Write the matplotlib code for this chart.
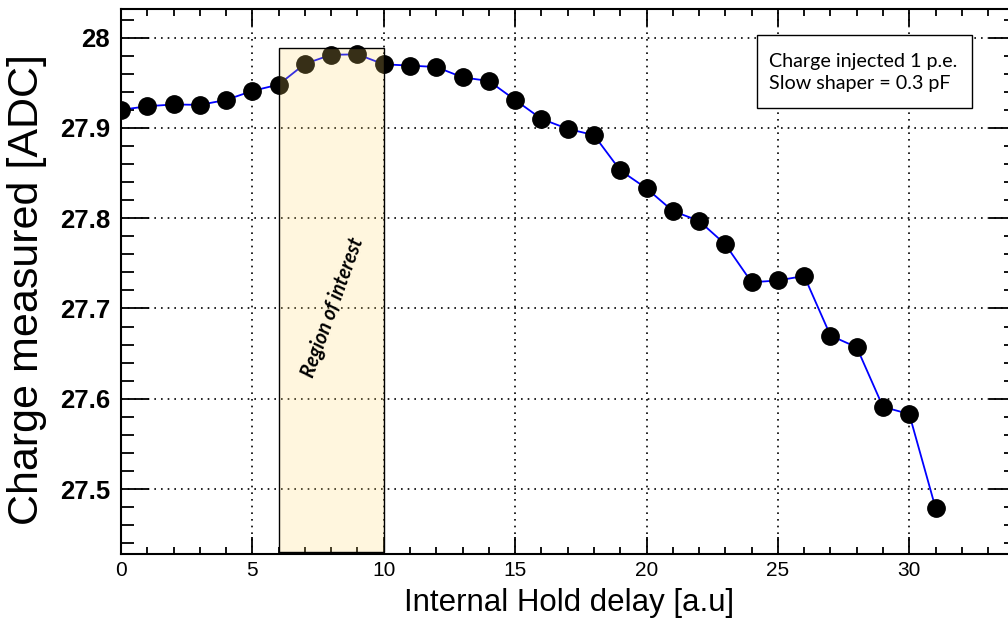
import matplotlib
matplotlib.use('Agg')
import matplotlib.pyplot as plt
from matplotlib.patches import Rectangle
from matplotlib.ticker import MultipleLocator

# hold delay steps and measured charge (ADC)
hold_delay = list(range(32))
charge = [27.920, 27.924, 27.926, 27.9255, 27.931, 27.941, 27.948, 27.971,
          27.981, 27.9815, 27.9705, 27.9690, 27.9675, 27.956, 27.952, 27.931,
          27.910, 27.899, 27.892, 27.853, 27.833, 27.808, 27.797, 27.771,
          27.729, 27.731, 27.736, 27.670, 27.657, 27.591, 27.583, 27.479]

roi_x = [6, 10]
roi_y = [27.43, 27.988]
info_lines = ['Charge injected 1 p.e.', 'Slow shaper = 0.3 pF']
roi_label = 'Region of interest'

plt.rcParams['font.family'] = ['Liberation Sans', 'DejaVu Sans']

fig = plt.figure(figsize=(10.08, 6.26), dpi=100)
ax = fig.add_axes([121 / 1008, 1 - 554 / 626, 896 / 1008, 544.7 / 626])

ax.plot(hold_delay, charge, '-', color='#0000ff', lw=1.3, zorder=2)
ax.plot(hold_delay, charge, 'o', color='black', ms=12.5, zorder=2.5)

roi = Rectangle((roi_x[0], roi_y[0]), roi_x[1] - roi_x[0], roi_y[1] - roi_y[0],
                facecolor=(1.0, 0.85, 0.42, 0.22), edgecolor='black', lw=1.0, zorder=3)
ax.add_patch(roi)
ax.text(8.05, 27.701, roi_label, rotation=70, ha='center', va='center',
        fontsize=14.2, fontweight='bold', fontstyle='italic', family=['Lato', 'DejaVu Sans'],
        zorder=4)

ax.set_xlim(0, 34.1)
ax.set_ylim(27.428, 28.0314)

ax.xaxis.set_major_locator(MultipleLocator(5))
ax.xaxis.set_minor_locator(MultipleLocator(1))
ax.yaxis.set_major_locator(MultipleLocator(0.1))
ax.yaxis.set_minor_locator(MultipleLocator(0.02))
ax.yaxis.set_major_formatter(plt.FuncFormatter(lambda v, p: f'{v:g}'))

ax.tick_params(axis='both', which='both', direction='in', top=True, right=True, width=1.3)
ax.tick_params(axis='y', which='major', length=20, pad=8, labelsize=18.5)
ax.tick_params(axis='y', which='minor', length=9.5)
ax.tick_params(axis='x', which='major', length=12, pad=5, labelsize=15)
ax.tick_params(axis='x', which='minor', length=5)
for lbl in ax.get_yticklabels():
    lbl.set_fontweight('bold')
for s in ax.spines.values():
    s.set_linewidth(1.5)

ax.grid(True, which='major', color='black', linestyle=(0, (1, 3)), lw=1.2)

ax.set_xlabel('Internal Hold delay [a.u]', fontsize=22.5, labelpad=6)
ax.set_ylabel('Charge measured [ADC]', fontsize=31)
ax.yaxis.set_label_coords(-0.083, 0.485)

box = Rectangle((0.710, 0.819), 0.240, 0.134, transform=ax.transAxes,
                facecolor='white', edgecolor='black', lw=1.0, zorder=5)
ax.add_patch(box)
ax.text(0.7235, 0.884, '\n'.join(info_lines), transform=ax.transAxes, ha='left', va='center',
        fontsize=14.2, family=['Lato', 'DejaVu Sans'], linespacing=1.3, zorder=6)

fig.savefig('out.png', dpi=100)
